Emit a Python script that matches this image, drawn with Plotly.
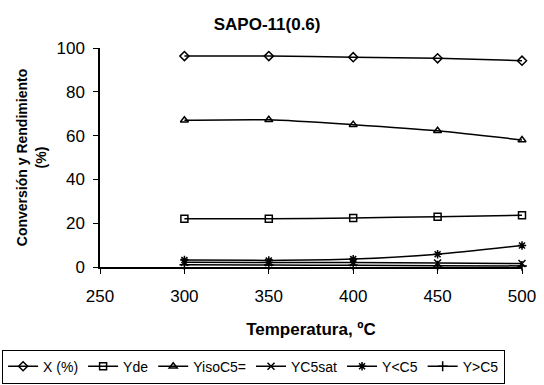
import plotly.graph_objects as go

temperatura = [300, 350, 400, 450, 500]
X_pct = [96.3, 96.3, 95.8, 95.3, 94.2]
Yde = [22.0, 22.0, 22.4, 23.0, 23.6]
YisoC5 = [67.0, 67.2, 65.0, 62.2, 58.0]
YC5sat = [2.2, 2.0, 2.0, 1.8, 1.6]
Y_menor_C5 = [3.2, 3.0, 3.6, 5.8, 9.8]
Y_mayor_C5 = [1.0, 0.9, 0.8, 0.6, 0.5]

series = [
    ("X (%)", X_pct, "diamond-open"),
    ("Yde", Yde, "square-open"),
    ("YisoC5=", YisoC5, "triangle-up-open"),
    ("YC5sat", YC5sat, "x-thin-open"),
    ("Y<C5", Y_menor_C5, "asterisk-open"),
    ("Y>C5", Y_mayor_C5, "cross-thin-open"),
]

fig = go.Figure()
for name, vals, sym in series:
    fig.add_trace(go.Scatter(
        x=temperatura, y=vals, name=name, mode="lines+markers",
        line=dict(color="black", width=1.5, shape="spline", smoothing=0.6),
        marker=dict(symbol=sym, size=7, color="black", line=dict(color="black", width=1.5)),
        cliponaxis=False,
    ))

font = "Liberation Sans, Arial, sans-serif"
fig.update_layout(
    width=544, height=385,
    margin=dict(l=100, r=22, t=48, b=118, autoexpand=False),
    paper_bgcolor="white", plot_bgcolor="white",
    font=dict(family=font, color="black"),
    title=dict(text="<b>SAPO-11(0.6)</b>", x=0.491, xanchor="center", y=0.937, yanchor="middle",
               font=dict(size=17)),
    showlegend=True,
    legend=dict(orientation="h", x=-0.232, xanchor="left", y=-0.455, yanchor="middle",
                bordercolor="black", borderwidth=1, font=dict(size=14),
                itemwidth=30, tracegroupgap=0),
    xaxis=dict(range=[250, 500], tickvals=[250, 300, 350, 400, 450, 500],
               showline=True, linecolor="black", linewidth=1.5, ticks="outside",
               ticklen=5, tickcolor="black", showgrid=False, zeroline=False,
               tickfont=dict(size=17), ticklabelstandoff=8,
               title=dict(text="<b>Temperatura, ºC</b>", font=dict(size=17), standoff=18)),
    yaxis=dict(range=[0, 100], tickvals=[0, 20, 40, 60, 80, 100],
               showline=True, linecolor="black", linewidth=1.5, ticks="outside",
               ticklen=5, tickcolor="black", showgrid=False, zeroline=False,
               tickfont=dict(size=17), ticklabelstandoff=5,
               title=dict(text="<b>Conversión y Rendimiento<br>(%)</b>", font=dict(size=14), standoff=7)),
)

fig.write_html("out.html")
